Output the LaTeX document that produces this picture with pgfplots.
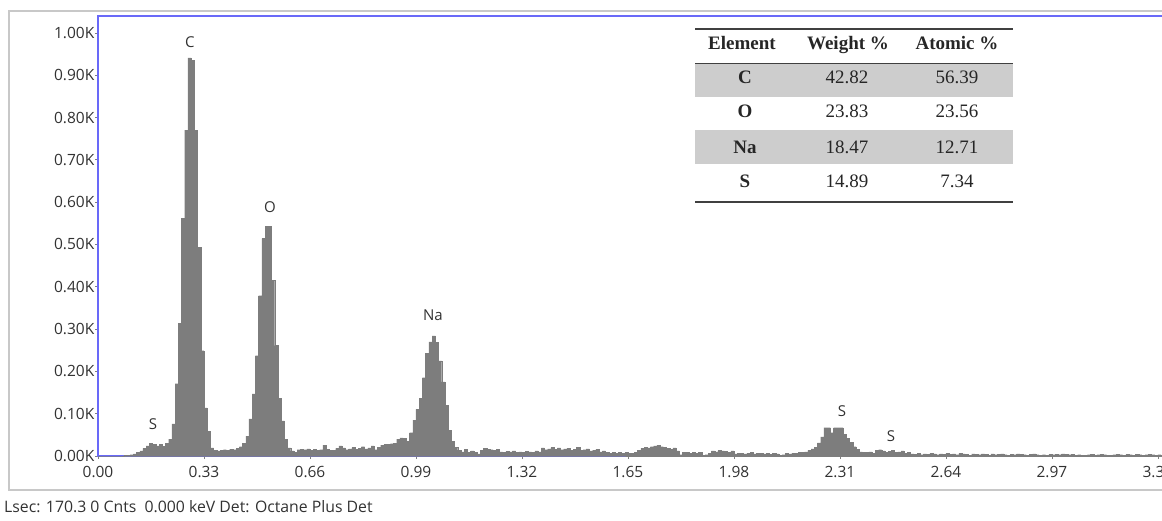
\documentclass[border=0pt]{standalone}
\usepackage{fontspec}
\usepackage{pgfplots}
\pgfplotsset{compat=1.18}
\usepackage{pgfplotstable}
\setmainfont{Open Sans}
\newfontfamily\tabfont{Liberation Serif}
\definecolor{specgray}{RGB}{125,125,125}
\definecolor{axblue}{RGB}{105,105,248}
\definecolor{labgray}{RGB}{50,50,50}
\definecolor{framegray}{RGB}{200,200,200}
\definecolor{rowshade}{RGB}{205,205,205}
\pgfplotstableread{
x y
0.00 0
0.01 0
0.02 0
0.03 0
0.04 0
0.05 0
0.06 0
0.07 0
0.08 1
0.09 2
0.10 3
0.11 5
0.12 8
0.13 12
0.14 18
0.15 24
0.16 30
0.17 27
0.18 24
0.19 27
0.20 23
0.21 30
0.22 40
0.23 76
0.24 171
0.25 313
0.26 562
0.27 770
0.28 941
0.29 935
0.30 770
0.31 493
0.32 249
0.33 114
0.34 59
0.35 19
0.36 14
0.37 12
0.38 13
0.39 15
0.40 14
0.41 16
0.42 15
0.43 18
0.44 22
0.45 30
0.46 47
0.47 88
0.48 147
0.49 237
0.50 379
0.51 514
0.52 543
0.53 543
0.54 415
0.55 261
0.56 137
0.57 83
0.58 40
0.59 19
0.60 12
0.61 8
0.62 15
0.63 16
0.64 15
0.65 17
0.66 14
0.67 16
0.68 13
0.69 15
0.70 26
0.71 16
0.72 14
0.73 13
0.74 18
0.75 24
0.76 19
0.77 15
0.78 17
0.79 20
0.80 16
0.81 18
0.82 22
0.83 17
0.84 19
0.85 24
0.86 15
0.87 20
0.88 26
0.89 27
0.90 28
0.91 29
0.92 30
0.93 40
0.94 43
0.95 42
0.96 35
0.97 55
0.98 85
0.99 110
1.00 137
1.01 185
1.02 242
1.03 270
1.04 284
1.05 268
1.06 225
1.07 175
1.08 120
1.09 60
1.10 35
1.11 20
1.12 14
1.13 10
1.14 16
1.15 9
1.16 12
1.17 8
1.18 5
1.19 14
1.20 18
1.21 16
1.22 15
1.23 13
1.24 16
1.25 10
1.26 9
1.27 11
1.28 10
1.29 12
1.30 9
1.31 10
1.32 8
1.33 11
1.34 10
1.35 9
1.36 12
1.37 10
1.38 19
1.39 15
1.40 17
1.41 20
1.42 16
1.43 19
1.44 15
1.45 17
1.46 18
1.47 14
1.48 16
1.49 20
1.50 13
1.51 15
1.52 17
1.53 12
1.54 14
1.55 16
1.56 10
1.57 12
1.58 9
1.59 7
1.60 8
1.61 6
1.62 9
1.63 7
1.64 8
1.65 6
1.66 7
1.67 9
1.68 14
1.69 18
1.70 20
1.71 19
1.72 22
1.73 24
1.74 25
1.75 22
1.76 20
1.77 18
1.78 16
1.79 19
1.80 12
1.81 3
1.82 9
1.83 8
1.84 7
1.85 9
1.86 6
1.87 8
1.88 2
1.89 3
1.90 7
1.91 12
1.92 10
1.93 13
1.94 12
1.95 11
1.96 9
1.97 12
1.98 5
1.99 6
2.00 7
2.01 5
2.02 6
2.03 8
2.04 5
2.05 7
2.06 6
2.07 5
2.08 6
2.09 4
2.10 7
2.11 5
2.12 2
2.13 3
2.14 6
2.15 5
2.16 7
2.17 6
2.18 8
2.19 8
2.20 10
2.21 14
2.22 17
2.23 20
2.24 31
2.25 45
2.26 67
2.27 67
2.28 55
2.29 67
2.30 67
2.31 67
2.32 52
2.33 42
2.34 33
2.35 22
2.36 16
2.37 10
2.38 9
2.39 8
2.40 10
2.41 7
2.42 14
2.43 15
2.44 12
2.45 9
2.46 11
2.47 13
2.48 8
2.49 10
2.50 12
2.51 7
2.52 9
2.53 5
2.54 4
2.55 6
2.56 3
2.57 5
2.58 4
2.59 6
2.60 5
2.61 3
2.62 5
2.63 4
2.64 6
2.65 4
2.66 5
2.67 3
2.68 6
2.69 5
2.70 4
2.71 2
2.72 5
2.73 4
2.74 3
2.75 5
2.76 4
2.77 2
2.78 5
2.79 3
2.80 4
2.81 5
2.82 3
2.83 1
2.84 4
2.85 3
2.86 5
2.87 4
2.88 3
2.89 2
2.90 4
2.91 5
2.92 3
2.93 1
2.94 3
2.95 2
2.96 4
2.97 3
2.98 4
2.99 3
3.00 5
3.01 4
3.02 3
3.03 4
3.04 2
3.05 3
3.06 1
3.07 2
3.08 3
3.09 4
3.10 2
3.11 3
3.12 4
3.13 3
3.14 2
3.15 1
3.16 3
3.17 4
3.18 3
3.19 2
3.20 4
3.21 3
3.22 2
3.23 4
3.24 3
3.25 2
3.26 3
3.27 4
3.28 3
3.29 2
3.30 3
3.31 2
3.32 0
}\spectrum
\begin{document}
\begin{tikzpicture}
% outer frame
\draw[framegray, line width=1.5pt] (1200pt,-11pt) -- (9pt,-11pt) -- (9pt,-490pt) -- (1200pt,-490pt);
\begin{axis}[
  at={(98pt,-456pt)}, anchor=south west,
  scale only axis, width=1066.4pt, height=440pt,
  xmin=0, xmax=3.32, ymin=0, ymax=1040,
  axis line style={axblue, line width=1.9pt},
  xtick={0,0.33,0.66,0.99,1.32,1.65,1.98,2.31,2.64,2.97,3.30},
  xticklabels={0.00,0.33,0.66,0.99,1.32,1.65,1.98,2.31,2.64,2.97,3.30},
  ytick={0,100,200,300,400,500,600,700,800,900,1000},
  yticklabels={0.00K,0.10K,0.20K,0.30K,0.40K,0.50K,0.60K,0.70K,0.80K,0.90K,1.00K},
  tick align=outside, major tick length=3pt,
  tick style={gray, line width=0.8pt},
  xtick pos=bottom, ytick pos=left,
  ticklabel style={font=\fontsize{15.5pt}{18pt}\selectfont, text=labgray},
  xticklabel style={inner sep=0pt, yshift=-7pt},
  yticklabel style={inner sep=0pt, xshift=-0.5pt},
  clip=true,
]
\addplot[const plot mark left, fill=specgray, draw=specgray, line width=0.3pt] table[x=x,y=y] {\spectrum} \closedcycle;
\node[font=\fontsize{15pt}{18pt}\selectfont, text=labgray] at (axis cs:0.286,979) {C};
\node[font=\fontsize{15pt}{18pt}\selectfont, text=labgray] at (axis cs:0.535,588) {O};
\node[font=\fontsize{15pt}{18pt}\selectfont, text=labgray] at (axis cs:1.043,332) {Na};
\node[font=\fontsize{15pt}{18pt}\selectfont, text=labgray] at (axis cs:0.171,76) {S};
\node[font=\fontsize{15pt}{18pt}\selectfont, text=labgray] at (axis cs:2.316,107) {S};
\node[font=\fontsize{15pt}{18pt}\selectfont, text=labgray] at (axis cs:2.469,47) {S};
\end{axis}
% table
\fill[rowshade] (695pt,-63.3pt) rectangle (1013pt,-96.7pt);
\fill[rowshade] (695pt,-129.5pt) rectangle (1013pt,-163.5pt);
\draw[black!75, line width=1.6pt] (695pt,-29pt) -- (1013pt,-29pt);
\draw[black!75, line width=1.6pt] (695pt,-63.3pt) -- (1013pt,-63.3pt);
\draw[black!75, line width=1.6pt] (695pt,-202pt) -- (1013pt,-202pt);
\begin{scope}[every node/.style={font=\tabfont\fontsize{19pt}{22pt}\selectfont, text=black!85, inner sep=0pt, anchor=base}]
\node at (742pt,-49pt) {\bfseries Element};
\node at (848pt,-49pt) {\bfseries Weight \%};
\node at (957pt,-49pt) {\bfseries Atomic \%};
\node at (745pt,-83pt) {\bfseries C};
\node at (847pt,-83pt) {42.82};
\node at (957pt,-83pt) {56.39};
\node at (745pt,-117pt) {\bfseries O};
\node at (847pt,-117pt) {23.83};
\node at (957pt,-117pt) {23.56};
\node at (745pt,-153pt) {\bfseries Na};
\node at (847pt,-153pt) {18.47};
\node at (957pt,-153pt) {12.71};
\node at (745pt,-187pt) {\bfseries S};
\node at (847pt,-187pt) {14.89};
\node at (957pt,-187pt) {7.34};
\end{scope}
\node[anchor=west, inner sep=0pt, font=\fontsize{15.8pt}{18pt}\selectfont, text=labgray] at (4pt,-507pt) {Lsec: 170.3 0 Cnts\ \ 0.000 keV Det: Octane Plus Det};
\pgfresetboundingbox
\useasboundingbox (0pt,0pt) rectangle (1162pt,-520pt);
\end{tikzpicture}
\end{document}
